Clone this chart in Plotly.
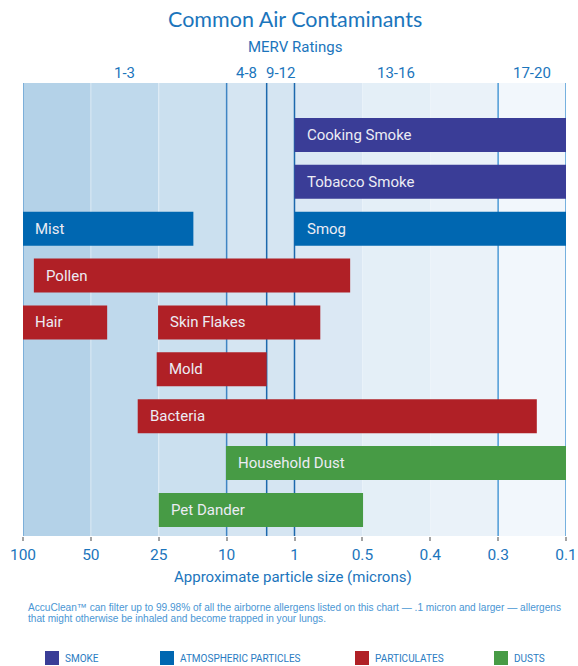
import plotly.graph_objects as go

# ---------------- data ----------------
tick_text = ["100", "50", "25", "10", "1", "0.5", "0.4", "0.3", "0.1"]
merv_labels = ["1-3", "4-8", "9-12", "13-16", "17-20"]
merv_bounds = [0, 3, 3.59, 4, 7, 8]

contaminants = ["Cooking Smoke", "Tobacco Smoke", "Mist", "Smog", "Pollen", "Hair",
                "Skin Flakes", "Mold", "Bacteria", "Household Dust", "Pet Dander"]
rows = [0, 1, 2, 2, 3, 4, 4, 5, 6, 7, 8]
starts = [4.0, 4.0, 0.0, 4.0, 0.16, 0.0, 1.99, 1.97, 1.69, 2.99, 2.0]
ends = [8.0, 8.0, 2.51, 8.0, 4.82, 1.24, 4.38, 3.59, 7.57, 8.0, 5.01]
groups = ["SMOKE", "SMOKE", "ATMOSPHERIC PARTICLES", "ATMOSPHERIC PARTICLES",
          "PARTICULATES", "PARTICULATES", "PARTICULATES", "PARTICULATES", "PARTICULATES",
          "DUSTS", "DUSTS"]
group_names = ["SMOKE", "ATMOSPHERIC PARTICLES", "PARTICULATES", "DUSTS"]

# ---------------- style ----------------
group_colors = {"SMOKE": "#3a3d97", "ATMOSPHERIC PARTICLES": "#0067b1",
                "PARTICULATES": "#b02026", "DUSTS": "#479b45"}
band_colors = ["#b4d2e8", "#bfd9ec", "#cbe0ef", "#d5e5f2",
               "#dbe8f4", "#e4eff7", "#eaf2f9", "#f2f7fc"]
BLUE = "#1b75bc"
NARROW = "Liberation Sans Narrow, Roboto, sans-serif"

W, H = 578, 666
L, R, T, B = 23, 566, 83, 536


def px(x):
    return (x - L) / (R - L)


def py(y):
    return (B - y) / (B - T)


fig = go.Figure()

for g in group_names:
    idx = [i for i, gg in enumerate(groups) if gg == g]
    fig.add_trace(go.Bar(
        orientation="h",
        y=[rows[i] for i in idx],
        base=[starts[i] for i in idx],
        x=[ends[i] - starts[i] for i in idx],
        width=0.725,
        marker=dict(color=group_colors[g], line=dict(width=0)),
        name=g, showlegend=False, hoverinfo="skip",
    ))

shapes = []
# background bands
for i, c in enumerate(band_colors):
    shapes.append(dict(type="rect", xref="x", yref="paper", x0=i, x1=i + 1, y0=0, y1=1,
                       fillcolor=c, line=dict(width=0), layer="below"))
# faint separators
for xv in [1, 2]:
    shapes.append(dict(type="line", xref="x", yref="paper", x0=xv, x1=xv, y0=0, y1=1,
                       line=dict(color="rgba(255,255,255,0.45)", width=1), layer="below"))
# MERV boundary lines
line_cols = ["#6aa3d4", "#3f85c3", "#1c68ad", "#1c68ad", "#4d9ad6", "#4d9ad6"]
for xv, lc in zip(merv_bounds, line_cols):
    shapes.append(dict(type="line", xref="x", yref="paper", x0=xv, x1=xv, y0=0, y1=1,
                       line=dict(color=lc, width=1.5), layer="below"))

annotations = []
# bar labels
for name, r, s in zip(contaminants, rows, starts):
    annotations.append(dict(x=s, y=r, xref="x", yref="y", text=name, showarrow=False,
                            xanchor="left", yanchor="middle", xshift=10,
                            font=dict(family=NARROW, size=15, color="#ececf4")))
# MERV labels
for lab, a, b in zip(merv_labels, merv_bounds[:-1], merv_bounds[1:]):
    annotations.append(dict(x=(a + b) / 2, y=py(73), xref="x", yref="paper", text=lab,
                            showarrow=False, xanchor="center", yanchor="middle",
                            font=dict(family=NARROW, size=15, color=BLUE)))
# title & subtitles
annotations.append(dict(x=px(295), y=py(19), xref="paper", yref="paper",
                        text="Common Air Contaminants", showarrow=False,
                        xanchor="center", yanchor="middle",
                        font=dict(family="Lato, sans-serif", size=21.5, color=BLUE)))
annotations.append(dict(x=px(295), y=py(47), xref="paper", yref="paper",
                        text="MERV Ratings", showarrow=False,
                        xanchor="center", yanchor="middle",
                        font=dict(family=NARROW, size=15, color=BLUE)))
annotations.append(dict(x=px(293), y=py(577), xref="paper", yref="paper",
                        text="Approximate particle size (microns)", showarrow=False,
                        xanchor="center", yanchor="middle",
                        font=dict(family=NARROW, size=15, color=BLUE)))
# footnote
foot1 = "AccuClean\u2122 can filter up to 99.98% of all the airborne allergens listed on this chart \u2014 .1 micron and larger \u2014 allergens"
foot2 = "that might otherwise be inhaled and become trapped in your lungs."
for txt, yy in [(foot1, 607.5), (foot2, 618.5)]:
    annotations.append(dict(x=px(26), y=py(yy), xref="paper", yref="paper", text=txt,
                            showarrow=False, xanchor="left", yanchor="middle",
                            font=dict(family="Liberation Sans, Arial, sans-serif", size=10.1,
                                      color="#4a96d4")))
# custom legend
leg_x = [45, 160, 355, 494]
for g, lx in zip(group_names, leg_x):
    shapes.append(dict(type="rect", xref="paper", yref="paper",
                       x0=px(lx), x1=px(lx + 14), y0=py(665), y1=py(651),
                       fillcolor=group_colors[g], line=dict(width=0)))
    annotations.append(dict(x=px(lx + 18), y=py(658), xref="paper", yref="paper", text=g,
                            showarrow=False, xanchor="left", yanchor="middle",
                            font=dict(family=NARROW, size=10, color="#2a7cc2")))

fig.update_layout(
    width=W, height=H, autosize=False,
    margin=dict(l=L, r=W - R, t=T, b=H - B, pad=0, autoexpand=False),
    paper_bgcolor="white", plot_bgcolor="white",
    barmode="overlay", showlegend=False,
    shapes=shapes, annotations=annotations,
    xaxis=dict(range=[0, 8], tickvals=list(range(9)), ticktext=tick_text,
               showgrid=False, zeroline=False, showline=False, automargin=False,
               ticks="outside", ticklen=4, tickwidth=2, tickcolor="#a3a3a3",
               tickfont=dict(family=NARROW, size=15.5, color=BLUE), fixedrange=True),
    yaxis=dict(range=[8.555, -1.109], visible=False, automargin=False, fixedrange=True),
)

fig.write_html(
    "out.html",
    config={"displayModeBar": False, "responsive": False},
    post_script="document.body.style.margin='0';document.body.style.overflow='hidden';",
)
